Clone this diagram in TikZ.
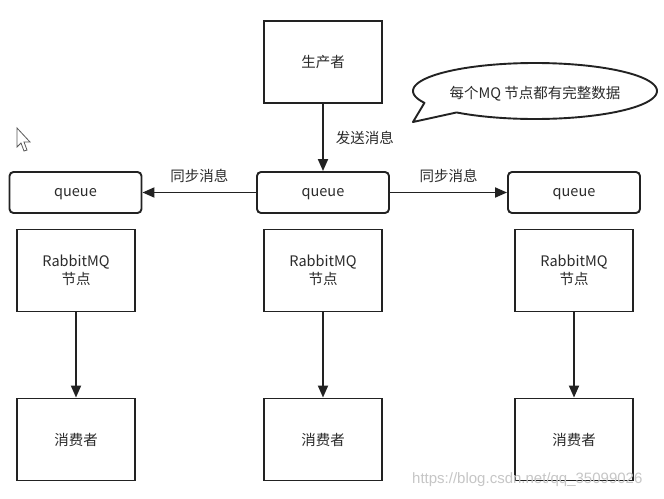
\documentclass[tikz,border=0pt]{standalone}
\usepackage{fontspec}
\setmainfont{Noto Sans CJK SC}
\newfontfamily\wmfont{Liberation Sans}
\usetikzlibrary{arrows.meta}
\definecolor{ink}{HTML}{222222}
\definecolor{txt}{HTML}{2b2b2b}
\begin{document}
\begin{tikzpicture}[x=1pt,y=-1pt,
  font=\fontsize{14.5}{17}\selectfont,
  box/.style={draw=ink,line width=1.9pt,fill=white,text=txt,inner sep=0pt,align=center},
  sqbox/.style={box,minimum width=118pt,minimum height=82pt},
  qbox/.style={box,rounded corners=4pt,minimum width=132pt,minimum height=41pt,text height=9pt,text depth=2pt},
  conn/.style={draw=ink,line width=1.9pt,-{Triangle[length=12pt,width=10pt]}},
  lbl/.style={text=txt,inner sep=0pt}]
\useasboundingbox (0,0) rectangle (664,498);
\fill[white] (0,0) rectangle (664,498);

\node[sqbox] (prod) at (323,62) {生产者};
\node[qbox] (qL) at (75.5,192.5) {queue};
\node[qbox] (qM) at (323,192.5) {queue};
\node[qbox] (qR) at (574,192.5) {queue};

\node[sqbox] (rL) at (76,270.5) {RabbitMQ\\[1pt]节点};
\node[sqbox] (rM) at (323,270.5) {RabbitMQ\\[1pt]节点};
\node[sqbox] (rR) at (574,270.5) {RabbitMQ\\[1pt]节点};

\node[sqbox] (cL) at (76,439.5) {\raisebox{-1.5pt}{消费者}};
\node[sqbox] (cM) at (323,439.5) {\raisebox{-1.5pt}{消费者}};
\node[sqbox] (cR) at (574,439.5) {\raisebox{-1.5pt}{消费者}};

\draw[conn] (prod) -- node[lbl,right=12pt] {发送消息} (qM);
\draw[conn] (qM) -- (qL) node[lbl,midway,above=9pt] {同步消息};
\draw[conn] (qM) -- (qR) node[lbl,midway,above=9pt] {同步消息};
\draw[conn] (rL) -- (cL);
\draw[conn] (rM) -- (cM);
\draw[conn] (rR) -- (cR);

% callout
\coordinate (tip) at (413,122);
\draw[ink,line width=1.9pt,fill=white,line join=round]
  (tip) -- plot[domain=130:-205,samples=120,smooth] ({535+122*cos(\x)},{91+28*sin(\x)}) -- cycle;
\node[lbl] (callout) at (535,94) {每个MQ 节点都有完整数据};

% mouse cursor
\draw[gray!70!black,line width=0.8pt,fill=white,line join=miter]
  (17,128) -- (17,147) -- (21,143) -- (24,151) -- (27,150) -- (24,142) -- (30,142) -- cycle;

% watermark
\node[text=gray!45,font=\wmfont\fontsize{15}{17}\selectfont,inner sep=0pt,anchor=west] (wm) at (412,480) {https://blog.csdn.net/qq\_35099026};
\end{tikzpicture}
\end{document}
